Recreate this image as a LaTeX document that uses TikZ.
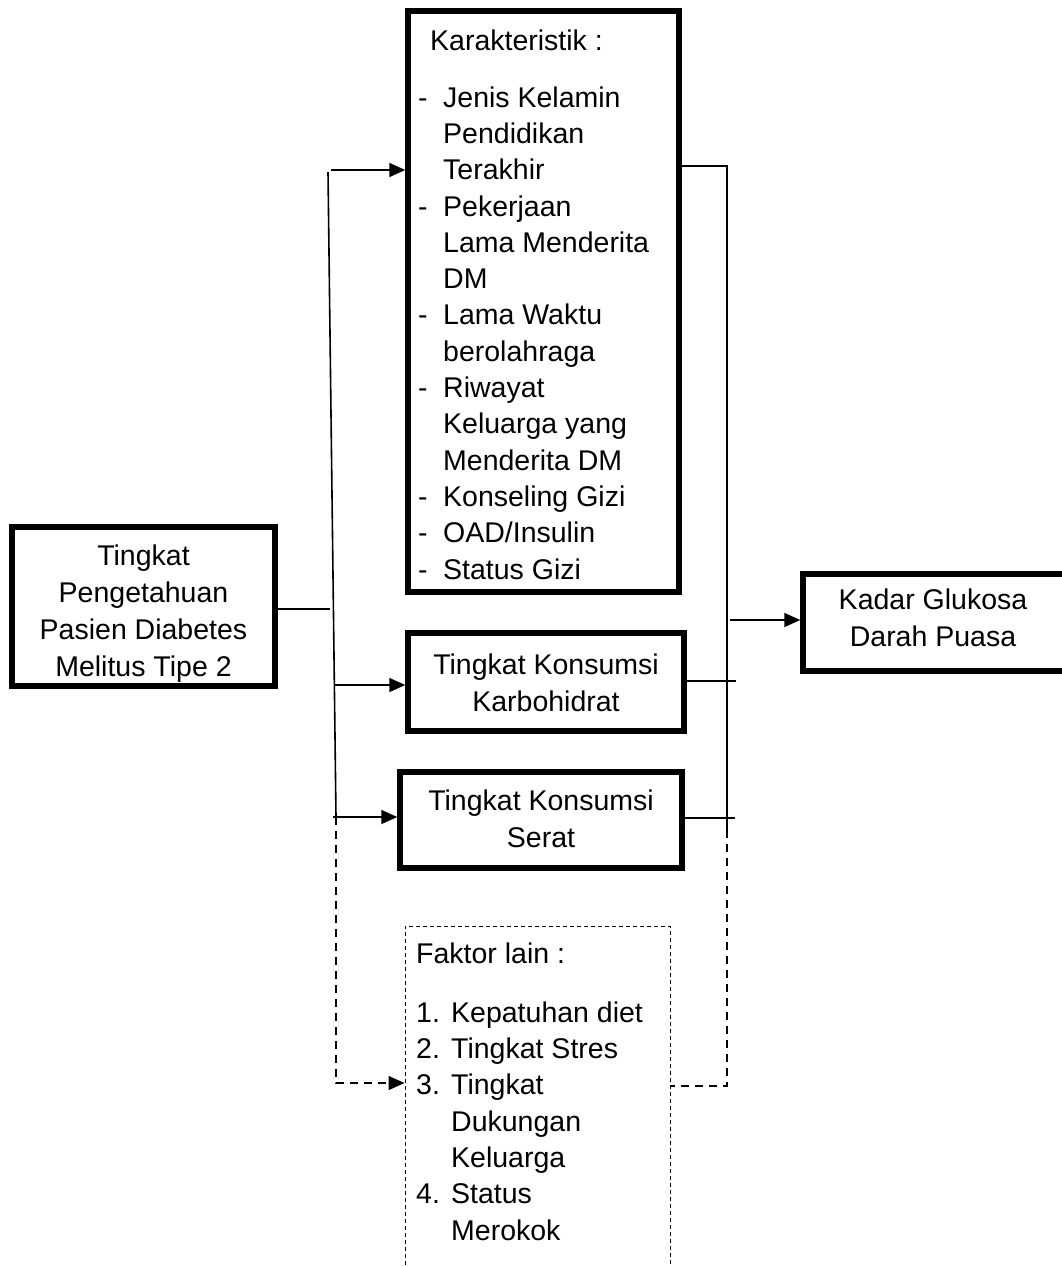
\documentclass[tikz,border=0pt]{standalone}
\usepackage{fontspec}
\setmainfont{Liberation Sans}
\usetikzlibrary{arrows.meta}
\newcommand{\kdash}{\makebox[25pt][l]{-}}
\newcommand{\kind}{\hspace*{25pt}}
\newcommand{\knum}[1]{\makebox[35pt][l]{#1}}
\begin{document}
\begin{tikzpicture}[x=1pt,y=-1pt,
  box/.style={draw, line width=5.5pt, inner sep=0pt},
  dotbox/.style={draw, line width=1pt, dash pattern=on 4pt off 3pt, inner sep=0pt},
  txt/.style={font=\fontsize{28.5}{36.3}\selectfont, inner sep=0pt, align=left, anchor=base west},
  ctxt/.style={font=\fontsize{28.5}{36.3}\selectfont, inner sep=0pt, align=center, anchor=base},
  conn/.style={line width=1.6pt},
  arr/.style={conn, -{Triangle[length=16pt,width=14pt]}},
  dsh/.style={line width=1.6pt, dash pattern=on 8pt off 6pt},
  darr/.style={dsh, -{Triangle[length=16pt,width=14pt]}}
]
\useasboundingbox (0,0) rectangle (1062,1267);

% boxes
\node[box, minimum width=271pt, minimum height=581pt] (kar) at (543.5,301.5) {};
\node[box, minimum width=263pt, minimum height=159pt] (tp) at (143.5,606.5) {};
\node[box, minimum width=276pt, minimum height=98pt] (karb) at (546,682) {};
\node[box, minimum width=282pt, minimum height=96pt] (ser) at (541,820) {};
\node[box, minimum width=272pt, minimum height=97pt] (kgd) at (939,622.5) {};
\node[dotbox, minimum width=265pt, minimum height=360pt] (fl) at (537.5,1106) {};

% texts (base anchor = baseline of the last line)
\node[txt] (karh) at (430,50) {Karakteristik :};
\node[txt] (karl) at (418,579) {\kdash Jenis Kelamin\\
\kind Pendidikan\\
\kind Terakhir\\
\kdash Pekerjaan\\
\kind Lama Menderita\\
\kind DM\\
\kdash Lama Waktu\\
\kind berolahraga\\
\kdash Riwayat\\
\kind Keluarga yang\\
\kind Menderita DM\\
\kdash Konseling Gizi\\
\kdash OAD/Insulin\\
\kdash Status Gizi};
\node[ctxt] (tpt) at (143.5,676) {Tingkat\\[0.7pt]Pengetahuan\\[0.7pt]Pasien Diabetes\\[0.7pt]Melitus Tipe 2};
\node[ctxt] (karbt) at (546,711) {Tingkat Konsumsi\\Karbohidrat};
\node[ctxt] (sert) at (541,847) {Tingkat Konsumsi\\Serat};
\node[ctxt] (kgdt) at (933,646) {Kadar Glukosa\\Darah Puasa};
\node[txt] (flh) at (416,963) {Faktor lain :};
\node[txt] (fll) at (416,1240) {\knum{1.}Kepatuhan diet\\
\knum{2.}Tingkat Stres\\
\knum{3.}Tingkat\\
\knum{}Dukungan\\
\knum{}Keluarga\\
\knum{4.}Status\\
\knum{}Merokok};

% left connectors
\coordinate (lt) at (328,172);
\coordinate (lm) at (330,609);
\coordinate (lb) at (336,817);
\coordinate (ld) at (336,1083);
\draw[conn] (tp.east |- lm) -- (lm);
\draw[conn] (lt) -- (lb);
\coordinate (a1) at (331,170);
\coordinate (a2) at (335,685);
\coordinate (a3) at (333,817);
\draw[arr] (a1) -- (a1 -| kar.west);
\draw[arr] (a2) -- (a2 -| karb.west);
\draw[arr] (a3) -- (a3 -| ser.west);
\draw[darr] (lb) -- (ld) -- (ld -| fl.west);

% right connectors
\coordinate (rt) at (727,166);
\coordinate (rb) at (727,830);
\coordinate (rd) at (727,1086);
\draw[conn] (rt -| kar.east) -- (rt) -- (rb);
\coordinate (r1) at (730,620);
\draw[arr] (r1) -- (r1 -| kgd.west);
\coordinate (r2) at (736,681);
\coordinate (r3) at (735,818);
\draw[conn] ([xshift=-5pt]r2 -| karb.east) -- (r2);
\draw[conn] ([xshift=-5pt]r3 -| ser.east) -- (r3);
\draw[dsh] (rb) -- (rd) -- (rd -| fl.east);
\end{tikzpicture}
\end{document}
